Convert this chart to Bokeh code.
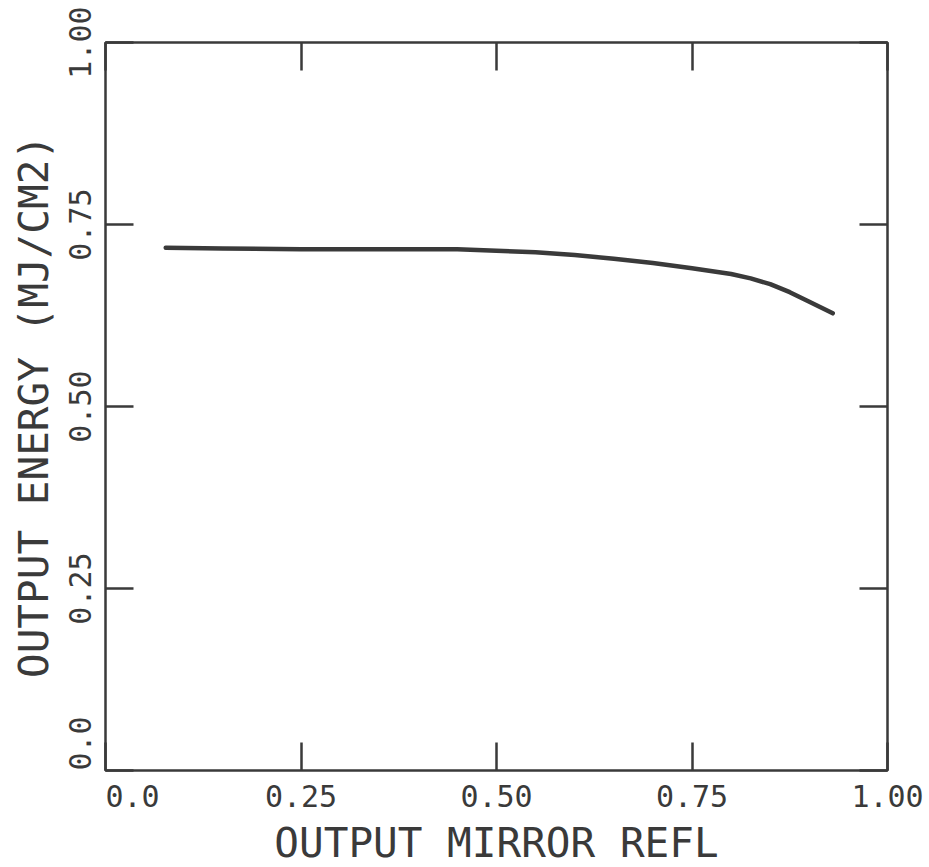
from bokeh.plotting import figure
from bokeh.models import FixedTicker, LinearAxis, Range1d
from bokeh.embed import file_html
from bokeh.resources import INLINE

# Data
reflectivity = [0.077, 0.15, 0.25, 0.35, 0.45, 0.50, 0.55, 0.60, 0.65, 0.70,
                0.75, 0.80, 0.825, 0.85, 0.875, 0.90, 0.93]
energy = [0.718, 0.717, 0.716, 0.716, 0.716, 0.714, 0.712, 0.708, 0.703, 0.697,
          0.690, 0.682, 0.676, 0.668, 0.657, 0.644, 0.628]

tick_values = [0.0, 0.25, 0.5, 0.75, 1.0]
tick_labels = ["\u2007\u2007\u20070.0", "0.25", "0.50", "0.75", "1.00"]

x_title = "OUTPUT MIRROR REFL"
y_title = "OUTPUT ENERGY (MJ/CM2)"

INK = "#3a3a3a"
FONT = "DejaVu Sans Mono"

p = figure(width=929, height=867, output_backend="svg", toolbar_location=None,
           x_range=Range1d(0, 1), y_range=Range1d(0, 1),
           x_axis_location=None, y_axis_location=None,
           min_border_left=105, min_border_right=42,
           min_border_top=42, min_border_bottom=10,
           frame_width=782, frame_height=728)

p.grid.visible = False
p.outline_line_color = INK
p.outline_line_width = 2.5
p.background_fill_color = "white"
p.border_fill_color = "white"

overrides = {v: s for v, s in zip(tick_values, tick_labels)}


def make_axis(show_labels, title=None):
    ax = LinearAxis(ticker=FixedTicker(ticks=tick_values))
    ax.major_tick_in = 28
    ax.major_tick_out = 0
    ax.minor_tick_in = 0
    ax.minor_tick_out = 0
    ax.major_tick_line_color = INK
    ax.major_tick_line_width = 2.5
    ax.axis_line_color = None
    if show_labels:
        ax.major_label_overrides = overrides
        ax.major_label_text_font = FONT
        ax.major_label_text_font_size = "30px"
        ax.major_label_text_color = INK
        ax.major_label_standoff = 8
        ax.axis_label = title
        ax.axis_label_text_font = FONT
        ax.axis_label_text_font_size = "41px"
        ax.axis_label_text_font_style = "normal"
        ax.axis_label_text_color = INK
        ax.axis_label_standoff = 2
    else:
        ax.major_label_text_font_size = "0px"
        ax.major_label_text_alpha = 0
    return ax


bottom = make_axis(True, x_title)
left = make_axis(True, y_title)
left.major_label_orientation = "vertical"
top = make_axis(False)
right = make_axis(False)

p.add_layout(bottom, "below")
p.add_layout(left, "left")
p.add_layout(top, "above")
p.add_layout(right, "right")

p.line(reflectivity, energy, line_color=INK, line_width=4.5,
       line_cap="round", line_join="round")

open("out.html", "w").write(file_html(p, INLINE))
